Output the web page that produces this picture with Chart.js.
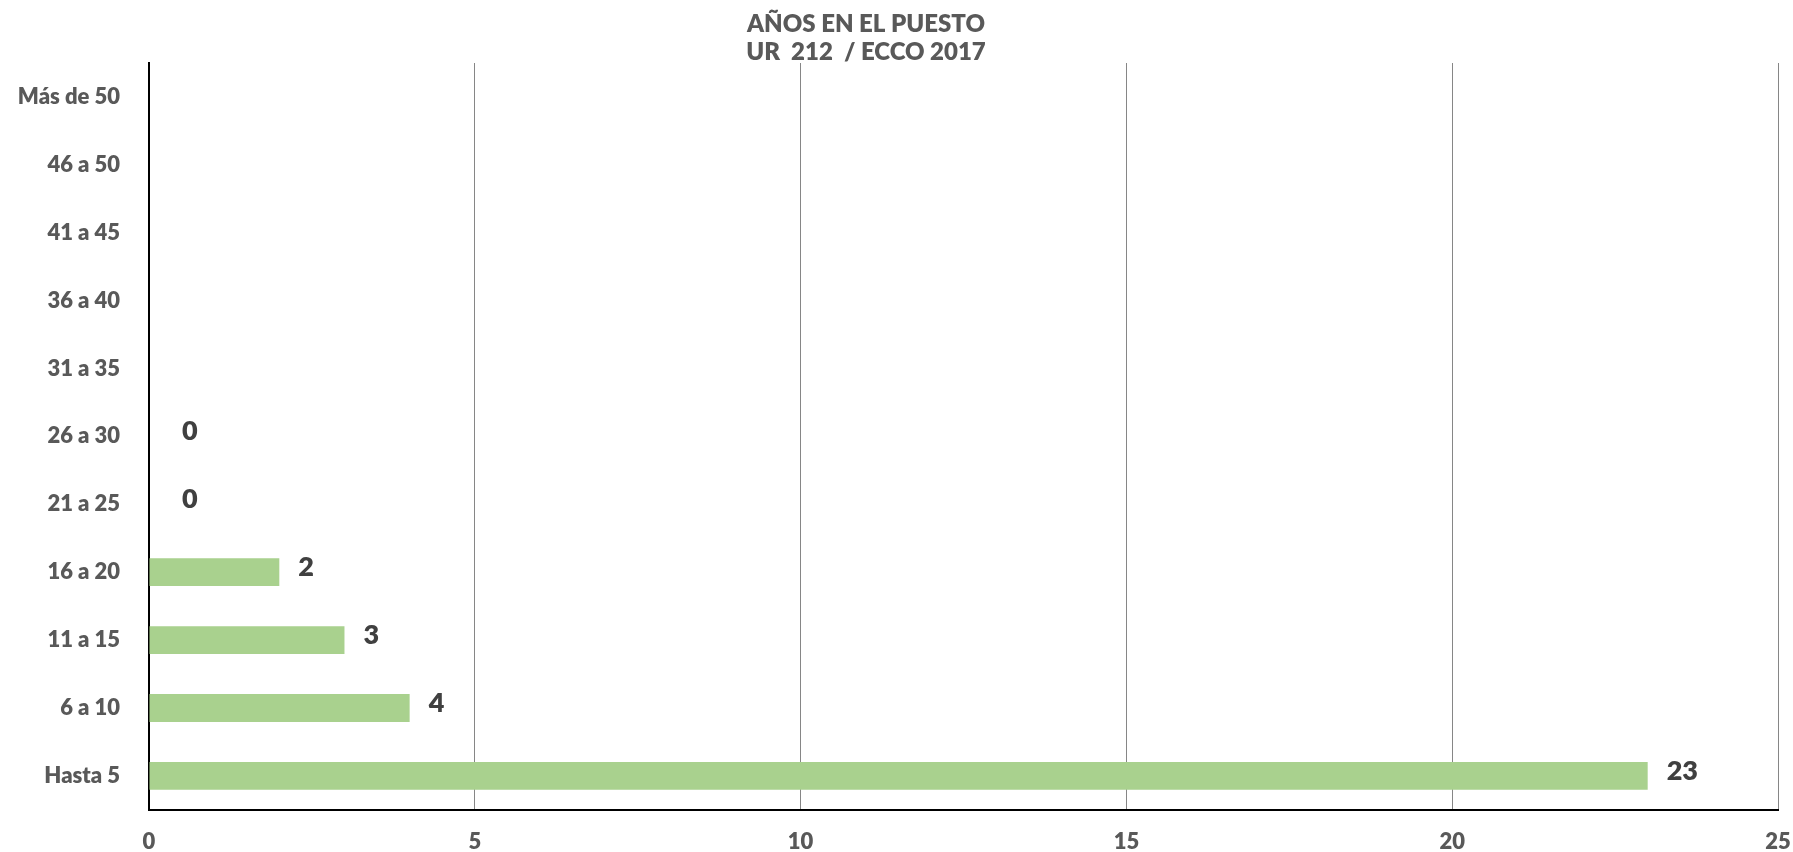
<!DOCTYPE html>
<html>
<head>
<meta charset="utf-8">
<title>Años en el puesto</title>
<script src="https://cdn.jsdelivr.net/npm/chart.js@4.4.1/dist/chart.umd.min.js"></script>
<style>
  body { margin: 0; background: #ffffff; }
  #histogramCanvas { display: block; }
</style>
</head>
<body>
<canvas id="histogramCanvas" width="1793" height="852"></canvas>
<script>
// Données (de bas en haut)
const categories = ['Hasta 5', '6 a 10', '11 a 15', '16 a 20', '21 a 25', '26 a 30',
                    '31 a 35', '36 a 40', '41 a 45', '46 a 50', 'Más de 50'];
const valeurs = [23, 4, 3, 2, 0, 0, null, null, null, null, null];
const titre = ['AÑOS EN EL PUESTO', 'UR  212  / ECCO 2017'];
const xMax = 25;
const xStep = 5;

const police = 'Lato, "Open Sans", sans-serif';

// Titre dessiné à la main (légèrement décalé à gauche comme dans Excel)
const titrePlugin = {
    id: 'titrePlugin',
    afterDraw(chart) {
        const ctx = chart.ctx;
        ctx.save();
        ctx.fillStyle = '#595959';
        ctx.font = '800 24px ' + police;
        ctx.textAlign = 'center';
        ctx.textBaseline = 'middle';
        const cx = chart.width * 0.483;
        titre.forEach((ligne, i) => {
            ctx.fillText(ligne, cx, 24 + i * 28);
        });
        ctx.restore();
    }
};

// Etiquettes de valeur au bout des barres
const etiquettesPlugin = {
    id: 'etiquettesPlugin',
    afterDatasetsDraw(chart) {
        const ctx = chart.ctx;
        const meta = chart.getDatasetMeta(0);
        ctx.save();
        ctx.fillStyle = '#404040';
        ctx.font = '800 27px ' + police;
        ctx.textAlign = 'left';
        ctx.textBaseline = 'middle';
        meta.data.forEach((bar, i) => {
            const v = valeurs[i];
            if (v === null) return;
            const decal = v === 0 ? 33 : 19;
            ctx.fillText(String(v), bar.x + decal, bar.y - 5);
        });
        ctx.restore();
    }
};

function dessinerHistogramme(canvasId) {
    const ctx = document.getElementById(canvasId).getContext('2d');
    new Chart(ctx, {
        type: 'bar',
        data: {
            labels: categories,
            datasets: [{
                label: 'Años en el puesto',
                data: valeurs,
                backgroundColor: '#A9D18E',
                borderWidth: 0,
                categoryPercentage: 1,
                barPercentage: 0.41
            }]
        },
        options: {
            indexAxis: 'y',
            responsive: false,
            animation: false,
            layout: {
                padding: { top: 63, right: 0, left: 0, bottom: 0 }
            },
            plugins: {
                legend: { display: false },
                title: { display: false },
                tooltip: { enabled: false }
            },
            scales: {
                x: {
                    min: 0,
                    max: xMax,
                    ticks: {
                        stepSize: xStep,
                        color: '#595959',
                        font: { family: police, size: 22, weight: '800' },
                        padding: 19
                    },
                    grid: {
                        color: '#868686',
                        lineWidth: 1,
                        drawTicks: false
                    },
                    border: { color: '#000000', width: 2 },
                    afterFit(scale) {
                        scale.height = 42;
                        scale.paddingRight = 15;
                        scale.paddingLeft = 0;
                    }
                },
                y: {
                    reverse: true,
                    ticks: {
                        color: '#595959',
                        font: { family: police, size: 22, weight: '800' },
                        padding: 29
                    },
                    grid: { display: false, drawTicks: false },
                    border: { color: '#000000', width: 2 },
                    afterFit(scale) { scale.width = 149; }
                }
            }
        },
        plugins: [titrePlugin, etiquettesPlugin]
    });
}

dessinerHistogramme('histogramCanvas');
</script>
</body>
</html>
